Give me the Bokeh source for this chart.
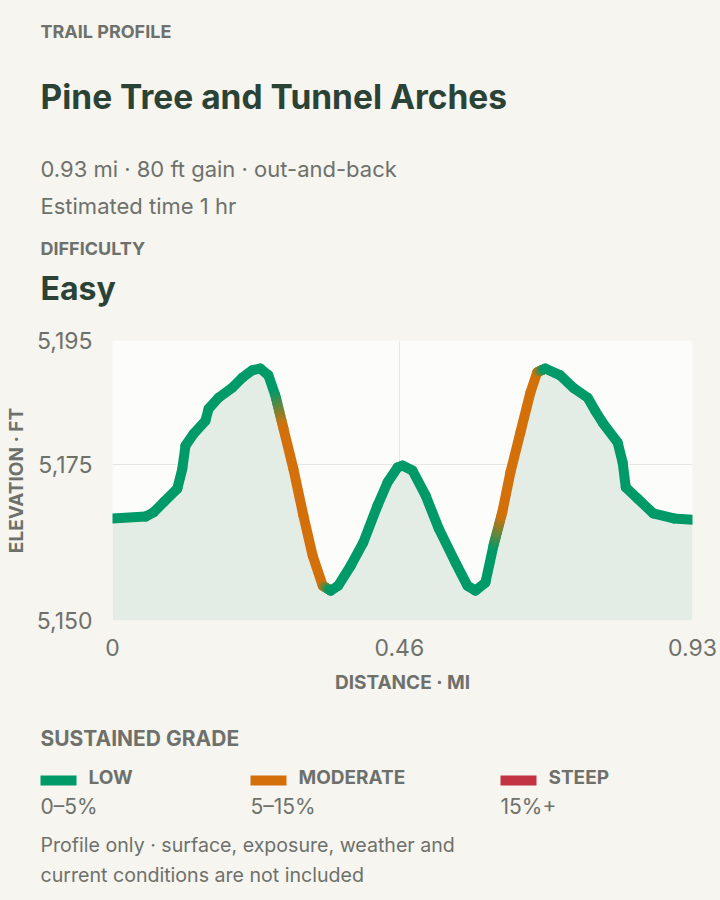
import numpy as np
from bokeh.plotting import figure
from bokeh.layouts import column, row
from bokeh.models import Range1d, FixedTicker, NumeralTickFormatter, ColumnDataSource
from bokeh.core.properties import value
from bokeh.embed import file_html
from bokeh.resources import INLINE

# ---------------- data ----------------
DIST_MI = [0.000, 0.053, 0.066, 0.082, 0.104, 0.112, 0.117, 0.130, 0.149, 0.154,
           0.170, 0.192, 0.208, 0.224, 0.237, 0.250, 0.261, 0.274, 0.290, 0.306,
           0.321, 0.337, 0.350, 0.362, 0.382, 0.402, 0.425, 0.441, 0.457, 0.465,
           0.481, 0.502, 0.523, 0.550, 0.569, 0.582, 0.598, 0.611, 0.625, 0.638,
           0.654, 0.670, 0.681, 0.694, 0.718, 0.739, 0.762, 0.774, 0.786, 0.810,
           0.818, 0.823, 0.842, 0.867, 0.900, 0.930]
ELEV_FT = [5166.4, 5166.7, 5167.4, 5169.0, 5171.2, 5174.4, 5178.1, 5180.0, 5182.1, 5184.0,
           5185.8, 5187.4, 5189.0, 5190.2, 5190.5, 5189.4, 5186.2, 5180.9, 5174.4, 5166.9,
           5160.4, 5155.6, 5154.8, 5155.6, 5158.8, 5162.5, 5168.5, 5172.2, 5174.6, 5174.9,
           5174.1, 5170.1, 5164.8, 5159.3, 5155.6, 5154.8, 5156.1, 5162.1, 5167.4, 5173.8,
           5180.2, 5186.6, 5189.9, 5190.5, 5189.4, 5187.4, 5185.8, 5183.7, 5181.8, 5178.6,
           5175.4, 5171.4, 5169.6, 5167.2, 5166.4, 5166.2]

X_TICKS = [0, 0.46, 0.93]
X_TICK_LABELS = ["0", "0.46", "0.93"]
Y_TICKS = [5150, 5175, 5195]

GRADE_NAMES = ["LOW", "MODERATE", "STEEP"]
GRADE_RANGES = ["0–5%", "5–15%", "15%+"]
GRADE_LIMITS = [5, 15]
GRADE_COLORS = ["#009a68", "#d4700a", "#c23444"]

KICKER = "TRAIL PROFILE"
TITLE = "Pine Tree and Tunnel Arches"
SUBTITLE = "0.93 mi · 80 ft gain · out-and-back"
TIME_TXT = "Estimated time 1 hr"
DIFF_LABEL = "DIFFICULTY"
DIFFICULTY = "Easy"
LEGEND_TITLE = "SUSTAINED GRADE"
NOTE_1 = "Profile only · surface, exposure, weather and"
NOTE_2 = "current conditions are not included"

# ---------------- styling ----------------
FONT = "Inter"
BG = "#f6f5f0"
GREY = "#6e716b"
DARK = "#2b4236"
W_PAGE = 720
H_HEAD, H_CHART, H_FOOT = 318, 382, 200

dist = np.array(DIST_MI)
elev = np.array(ELEV_FT)

# sustained grade over a window that mostly trails the direction of travel
LAG, LEAD = 0.045, 0.02
a = np.clip(dist - LAG, 0, dist[-1])
b = np.clip(dist + LEAD, 0, dist[-1])
rise = np.abs(np.interp(b, dist, elev) - np.interp(a, dist, elev))
grade = rise / ((b - a) * 5280) * 100
cls = np.digitize(grade, GRADE_LIMITS)


def hex2rgb(h):
    h = h.lstrip("#")
    return np.array([int(h[i:i + 2], 16) for i in (0, 2, 4)], dtype=float)


def rgb2hex(c):
    return "#%02x%02x%02x" % tuple(int(round(v)) for v in c)


# draw the polyline segment by segment; a segment whose two ends differ in
# grade class is drawn in pieces along the same straight line so its colour fades
x0s, y0s, x1s, y1s, cols = [], [], [], [], []
N_FADE = 8
for i in range(len(dist) - 1):
    ca, cb = hex2rgb(GRADE_COLORS[cls[i]]), hex2rgb(GRADE_COLORS[cls[i + 1]])
    n = 1 if cls[i] == cls[i + 1] else N_FADE
    for k in range(n):
        t0, t1 = k / n, (k + 1) / n
        x0s.append(dist[i] + (dist[i + 1] - dist[i]) * t0)
        x1s.append(dist[i] + (dist[i + 1] - dist[i]) * t1)
        y0s.append(elev[i] + (elev[i + 1] - elev[i]) * t0)
        y1s.append(elev[i] + (elev[i + 1] - elev[i]) * t1)
        tm = (t0 + t1) / 2
        cols.append(rgb2hex(ca * (1 - tm) + cb * tm))
seg_src = ColumnDataSource(dict(x0=x0s, y0=y0s, x1=x1s, y1=y1s, color=cols))


def canvas_fig(h):
    f = figure(width=W_PAGE, height=h, output_backend="svg", toolbar_location=None,
               x_range=Range1d(0, W_PAGE), y_range=Range1d(h, 0),
               x_axis_location=None, y_axis_location=None,
               min_border=0, min_border_left=0, min_border_right=0,
               min_border_top=0, min_border_bottom=0)
    f.background_fill_color = BG
    f.border_fill_color = BG
    f.outline_line_color = None
    f.grid.visible = False
    return f


def put(f, txt, x, y, size, bold=False, color=GREY):
    f.text(x=[x], y=[y], text=[txt], text_font=value(FONT), text_font_size=value(size),
           text_font_style="bold" if bold else "normal", text_color=color,
           text_baseline="middle", text_align="left")


# ---------------- header ----------------
head = canvas_fig(H_HEAD)
put(head, KICKER, 40, 31, "18px", bold=True)
put(head, TITLE, 40, 96.5, "33.5px", bold=True, color=DARK)
put(head, SUBTITLE, 40, 168, "22px")
put(head, TIME_TXT, 40, 205.5, "22px")
put(head, DIFF_LABEL, 40, 247.5, "18px", bold=True)
put(head, DIFFICULTY, 40, 287.5, "32px", bold=True, color=DARK)

# ---------------- chart ----------------
p = figure(width=W_PAGE, height=H_CHART, output_backend="svg", toolbar_location=None,
           x_range=Range1d(0, 0.93), y_range=Range1d(5150, 5195),
           min_border_left=112, min_border_right=28, min_border_top=22,
           min_border_bottom=80)
p.background_fill_color = "#fcfcfa"
p.border_fill_color = BG
p.outline_line_color = None

p.varea(x=dist, y1=5150, y2=elev, fill_color="#e3ece4", fill_alpha=0.95)
p.segment(x0="x0", y0="y0", x1="x1", y1="y1", source=seg_src, line_color="color",
          line_width=10, line_cap="round", line_join="round")

for ax in (p.xaxis[0], p.yaxis[0]):
    ax.axis_line_color = None
    ax.major_tick_line_color = None
    ax.minor_tick_line_color = None
    ax.major_label_text_font = FONT
    ax.major_label_text_font_size = "23px"
    ax.major_label_text_color = GREY
    ax.axis_label_text_font = FONT
    ax.axis_label_text_font_size = "19px"
    ax.axis_label_text_font_style = "bold"
    ax.axis_label_text_color = GREY

p.xaxis.ticker = FixedTicker(ticks=X_TICKS)
p.xaxis.major_label_overrides = {t: l for t, l in zip(X_TICKS, X_TICK_LABELS)}
p.xaxis.major_label_standoff = 12
p.xaxis.axis_label = "DISTANCE · MI"
p.xaxis.axis_label_standoff = 12

p.yaxis.ticker = FixedTicker(ticks=Y_TICKS)
p.yaxis.formatter = NumeralTickFormatter(format="0,0")
p.yaxis.major_label_standoff = 14
p.yaxis.axis_label = "ELEVATION · FT"
p.yaxis.axis_label_standoff = 6

p.xgrid.ticker = FixedTicker(ticks=X_TICKS)
p.ygrid.ticker = FixedTicker(ticks=Y_TICKS)
p.grid.grid_line_color = "#e6e6e2"
p.grid.grid_line_width = 1

# ---------------- footer (legend + note) ----------------
foot = canvas_fig(H_FOOT)
put(foot, LEGEND_TITLE, 40, 37.5, "21px", bold=True)
LEG_X = [40, 250, 500]
SW_W, SW_TOP, SW_BOT = 36, 75, 85
foot.quad(left=LEG_X, right=[x + SW_W for x in LEG_X], top=[SW_TOP] * 3, bottom=[SW_BOT] * 3,
          fill_color=GRADE_COLORS, line_color=None)
for lx, name, rng in zip(LEG_X, GRADE_NAMES, GRADE_RANGES):
    put(foot, name, lx + 48, 77, "19px", bold=True)
    put(foot, rng, lx, 106, "21px")
put(foot, NOTE_1, 40, 144.5, "19.6px")
put(foot, NOTE_2, 40, 174.5, "19.6px")

bg_style = {"background-color": BG}
layout = column(row(head, styles=bg_style), row(p, styles=bg_style),
                row(foot, styles=bg_style), spacing=0, styles=bg_style)
open("out.html", "w").write(file_html(layout, INLINE))
